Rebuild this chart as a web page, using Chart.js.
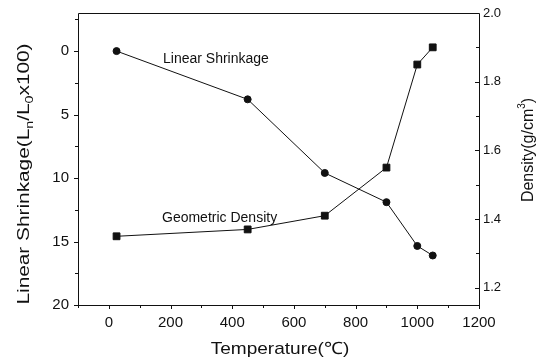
<!DOCTYPE html>
<html><head><meta charset="utf-8">
<script src="https://cdn.jsdelivr.net/npm/chart.js@4/dist/chart.umd.min.js"></script>
<style>html,body{margin:0;padding:0;background:#fff}#wrap{width:545px;height:361px}</style>
</head><body><div id="wrap"><canvas id="c" width="545" height="361"></canvas></div>
<script>
// ---- data ----
const temperatures = [25, 450, 700, 900, 1000, 1050];
const linearShrinkage = [0, 3.8, 9.6, 11.9, 15.35, 16.1];
const geometricDensity = [1.35, 1.37, 1.41, 1.55, 1.85, 1.90];
const xTicks = [0, 200, 400, 600, 800, 1000, 1200];
const shrinkTicks = [0, 5, 10, 15, 20];
const densityTicks = [1.2, 1.4, 1.6, 1.8, 2.0];
const seriesLabels = ['Linear Shrinkage', 'Geometric Density'];
const xTitle = 'Temperature(℃)';
const rightTitle = ['Density(g/cm', '3', ')'];
const leftTitle = [['Linear Shrinkage(L', 0], ['n', 1], ['/L', 0], ['0', 1], ['x100)', 0]];

const FONT = '"Liberation Sans", Arial, sans-serif';
const INK = '#111';

function mids(arr, before, after) {
  const out = [];
  const step = arr[1] - arr[0];
  if (before) out.push(arr[0] - step / 2);
  for (let i = 0; i < arr.length - 1; i++) out.push((arr[i] + arr[i + 1]) / 2);
  if (after) out.push(arr[arr.length - 1] + step / 2);
  return out;
}

const decor = {
  id: 'decor',
  afterDraw(chart) {
    const { ctx, chartArea: a, scales } = chart;
    const sx = scales.x, sy = scales.y, sy2 = scales.y2;
    ctx.save();
    ctx.strokeStyle = INK; ctx.lineWidth = 1;
    // frame
    ctx.beginPath();
    ctx.moveTo(a.left + 0.5, a.top + 0.5); ctx.lineTo(a.right + 0.5, a.top + 0.5);
    ctx.lineTo(a.right + 0.5, a.bottom + 0.5); ctx.lineTo(a.left + 0.5, a.bottom + 0.5);
    ctx.closePath(); ctx.stroke();
    ctx.beginPath();
    // x ticks (outward)
    xTicks.forEach(v => { const p = Math.round(sx.getPixelForValue(v)) + 0.5; ctx.moveTo(p, a.bottom); ctx.lineTo(p, a.bottom + 4); });
    mids(xTicks, true, false).forEach(v => { const p = Math.round(sx.getPixelForValue(v)) + 0.5; ctx.moveTo(p, a.bottom); ctx.lineTo(p, a.bottom + 3); });
    // left ticks (outward)
    shrinkTicks.forEach(v => { const p = Math.round(sy.getPixelForValue(v)) + 0.5; ctx.moveTo(a.left, p); ctx.lineTo(a.left - 4, p); });
    mids(shrinkTicks, true, false).forEach(v => { const p = Math.round(sy.getPixelForValue(v)) + 0.5; ctx.moveTo(a.left, p); ctx.lineTo(a.left - 3, p); });
    // right ticks (inward)
    densityTicks.forEach(v => { const p = Math.round(sy2.getPixelForValue(v)) + 0.5; ctx.moveTo(a.right, p); ctx.lineTo(a.right - 4, p); });
    mids(densityTicks, false, false).forEach(v => { const p = Math.round(sy2.getPixelForValue(v)) + 0.5; ctx.moveTo(a.right, p); ctx.lineTo(a.right - 3, p); });
    ctx.stroke();

    ctx.fillStyle = INK;
    // series annotations
    ctx.font = '14px ' + FONT; ctx.textAlign = 'left'; ctx.textBaseline = 'alphabetic';
    ctx.fillText(seriesLabels[0], 163, 63);
    ctx.fillText(seriesLabels[1], 162, 222);

    // x title
    ctx.font = '17px ' + FONT; ctx.textAlign = 'center';
    ctx.save(); ctx.translate(280, 354); ctx.scale(1.12, 1); ctx.fillText(xTitle, 0, 0); ctx.restore();

    // left title (rotated, stretched along text)
    ctx.save();
    ctx.translate(29, 174); ctx.rotate(-Math.PI / 2); ctx.scale(1.3, 1);
    let total = 0;
    leftTitle.forEach(([t, sub]) => { ctx.font = (sub ? '11px ' : '16px ') + FONT; total += ctx.measureText(t).width; });
    let xx = -total / 2; ctx.textAlign = 'left';
    leftTitle.forEach(([t, sub]) => { ctx.font = (sub ? '11px ' : '16px ') + FONT; ctx.fillText(t, xx, sub ? 4 : 0); xx += ctx.measureText(t).width; });
    ctx.restore();

    // right title
    ctx.save();
    ctx.translate(533, 150); ctx.rotate(-Math.PI / 2);
    ctx.font = '16px ' + FONT;
    const w0 = ctx.measureText(rightTitle[0]).width;
    ctx.font = '10px ' + FONT; const w1 = ctx.measureText(rightTitle[1]).width;
    ctx.font = '16px ' + FONT; const w2 = ctx.measureText(rightTitle[2]).width;
    let x0 = -(w0 + w1 + w2) / 2; ctx.textAlign = 'left';
    ctx.fillText(rightTitle[0], x0, 0);
    ctx.font = '10px ' + FONT; ctx.fillText(rightTitle[1], x0 + w0, -8);
    ctx.font = '16px ' + FONT; ctx.fillText(rightTitle[2], x0 + w0 + w1, 0);
    ctx.restore();
    ctx.restore();
  }
};

const toPts = ys => temperatures.map((t, i) => ({ x: t, y: ys[i] }));
const noPadV = s => { s.paddingTop = 0; s.paddingBottom = 0; };

new Chart(document.getElementById('c'), {
  type: 'line',
  data: {
    datasets: [
      { label: seriesLabels[0], data: toPts(linearShrinkage), yAxisID: 'y', borderColor: INK, borderWidth: 1, pointStyle: 'circle', pointRadius: 3.5, pointBackgroundColor: INK, pointBorderColor: INK, tension: 0 },
      { label: seriesLabels[1], data: toPts(geometricDensity), yAxisID: 'y2', borderColor: INK, borderWidth: 1, pointStyle: 'rect', pointRadius: 4.8, pointBackgroundColor: INK, pointBorderColor: INK, tension: 0 }
    ]
  },
  options: {
    responsive: false, animation: false, devicePixelRatio: 1,
    layout: { padding: { top: 13, left: 0, right: 0, bottom: 0 } },
    plugins: { legend: { display: false }, tooltip: { enabled: false } },
    scales: {
      x: {
        type: 'linear', position: 'bottom', min: -100, max: 1200,
        grid: { display: false, drawTicks: false }, border: { display: false },
        afterBuildTicks: s => { s.ticks = xTicks.map(v => ({ value: v })); },
        afterFit: s => { s.height = 56; s.paddingLeft = 0; s.paddingRight = 0; },
        ticks: { color: INK, font: { family: FONT, size: 15 }, padding: 9, maxRotation: 0, callback: v => String(v) }
      },
      y: {
        type: 'linear', position: 'left', reverse: true, min: -3, max: 20,
        grid: { display: false, drawTicks: false }, border: { display: false },
        afterBuildTicks: s => { s.ticks = shrinkTicks.map(v => ({ value: v })); },
        afterFit: s => { s.width = 78; noPadV(s); },
        ticks: { color: INK, font: { family: FONT, size: 15 }, padding: 9, callback: v => String(v) }
      },
      y2: {
        type: 'linear', position: 'right', min: 1.15, max: 2.0,
        grid: { display: false, drawTicks: false }, border: { display: false },
        afterBuildTicks: s => { s.ticks = densityTicks.map(v => ({ value: v })); },
        afterFit: s => { s.width = 66; noPadV(s); },
        ticks: { color: INK, font: { family: FONT, size: 13 }, padding: 4, callback: v => Number(v).toFixed(1) }
      }
    }
  },
  plugins: [decor]
});
</script></body></html>
